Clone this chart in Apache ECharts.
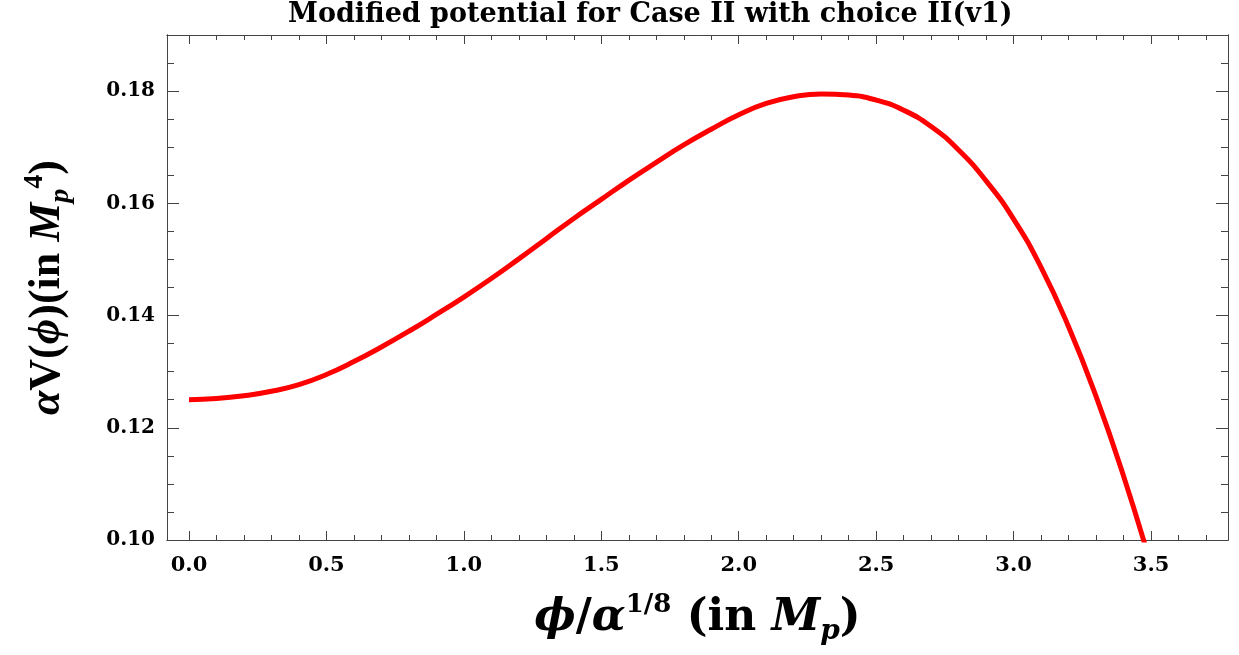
<!DOCTYPE html>
<html>
<head>
<meta charset="utf-8">
<title>Modified potential</title>
<script src="https://cdn.jsdelivr.net/npm/echarts@6/dist/echarts.min.js"></script>
<style>
  html, body { margin: 0; padding: 0; background: #fff; }
  #main { width: 1239px; height: 655px; }
</style>
</head>
<body>
<div id="main"></div>
<script>
// curve, every 0.1
var phiValues = [0.0, 0.1, 0.2, 0.3, 0.4, 0.5, 0.6, 0.7, 0.8, 0.9, 1.0, 1.1, 1.2, 1.3, 1.4, 1.5, 1.6, 1.7, 1.8,
  1.9, 2.0, 2.1, 2.2, 2.3, 2.4, 2.5, 2.6, 2.7, 2.8, 2.9, 3.0, 3.1, 3.2, 3.3, 3.4, 3.5];
var potValues = [0.1250, 0.1252, 0.1257, 0.1265, 0.1277, 0.1295, 0.1318, 0.1344, 0.1372, 0.1402, 0.1433, 0.1466,
  0.1501, 0.1537, 0.1573, 0.1607, 0.1641, 0.1673, 0.1704, 0.1732, 0.1758, 0.1778, 0.1790, 0.1795, 0.1793, 0.1784,
  0.1766, 0.1737, 0.1695, 0.1640, 0.1572, 0.1486, 0.1380, 0.1256, 0.1114, 0.0955];

// ticks
var xMajor = [0, 0.5, 1.0, 1.5, 2.0, 2.5, 3.0, 3.5];
var xMinor = [0.1, 0.2, 0.3, 0.4, 0.6, 0.7, 0.8, 0.9, 1.1, 1.2, 1.3, 1.4, 1.6, 1.7, 1.8, 1.9,
  2.1, 2.2, 2.3, 2.4, 2.6, 2.7, 2.8, 2.9, 3.1, 3.2, 3.3, 3.4, 3.6, 3.7];
var yMajor = [0.10, 0.12, 0.14, 0.16, 0.18];
var yMinor = [0.105, 0.11, 0.115, 0.125, 0.13, 0.135, 0.145, 0.15, 0.155, 0.165, 0.17, 0.175, 0.185];

var xMin = -0.08, xMax = 3.78;
var yMin = 0.10, yMax = 0.19;

var frameColor = '#444';
var serif = 'DejaVu Serif';

var points = phiValues.map(function (x, i) { return [x, potValues[i]]; });

function xAx(pos, ticks, len, labels) {
  return {
    type: 'value', position: pos, min: xMin, max: xMax,
    axisLine: { show: true, onZero: false, lineStyle: { color: frameColor, width: 1 } },
    axisTick: { show: true, inside: true, length: len, customValues: ticks, lineStyle: { color: frameColor } },
    axisLabel: labels ? {
      show: true, customValues: ticks, margin: 15,
      fontFamily: serif, fontWeight: 'bold', fontSize: 21, color: '#000',
      formatter: function (v) { return v.toFixed(1); }
    } : { show: false },
    splitLine: { show: false }
  };
}
function yAx(pos, ticks, len, labels) {
  return {
    type: 'value', position: pos, min: yMin, max: yMax,
    axisLine: { show: true, onZero: false, lineStyle: { color: frameColor, width: 1 } },
    axisTick: { show: true, inside: true, length: len, customValues: ticks, lineStyle: { color: frameColor } },
    axisLabel: labels ? {
      show: true, customValues: ticks, margin: 12,
      fontFamily: serif, fontWeight: 'bold', fontSize: 20, color: '#000',
      formatter: function (v) { return v.toFixed(2); }
    } : { show: false },
    splitLine: { show: false }
  };
}

var xMain = xAx('bottom', xMajor, 9, true);
xMain.name = '{i|ϕ}{n|/}{i|α}{sup|1/8}{n| (in }{i|M}{sub|p}{n|)}';
xMain.nameLocation = 'middle';
xMain.nameGap = 52;
xMain.nameTextStyle = {
  rich: {
    n: { fontFamily: serif, fontWeight: 'bold', fontSize: 44, color: '#000', lineHeight: 54 },
    i: { fontFamily: serif, fontWeight: 'bold', fontStyle: 'italic', fontSize: 44, color: '#000', lineHeight: 54 },
    sup: { fontFamily: serif, fontWeight: 'bold', fontSize: 26, color: '#000', verticalAlign: 'top', lineHeight: 26 },
    sub: { fontFamily: serif, fontWeight: 'bold', fontStyle: 'italic', fontSize: 28, color: '#000', verticalAlign: 'bottom', lineHeight: 28 }
  }
};

var yMain = yAx('left', yMajor, 12, true);
yMain.name = '{i|α}{n|V(}{i|ϕ}{n|)(in }{i|M}{sub|p}{sup|4}{n|)}';
yMain.nameLocation = 'middle';
yMain.nameGap = 92;
yMain.nameTextStyle = {
  rich: {
    n: { fontFamily: 'Liberation Serif', fontWeight: 'bold', fontSize: 44, color: '#000', lineHeight: 54 },
    i: { fontFamily: 'Liberation Serif', fontWeight: 'bold', fontStyle: 'italic', fontSize: 44, color: '#000', lineHeight: 54 },
    sup: { fontFamily: 'Liberation Serif', fontWeight: 'bold', fontSize: 28, color: '#000', verticalAlign: 'top', lineHeight: 28 },
    sub: { fontFamily: 'Liberation Serif', fontWeight: 'bold', fontStyle: 'italic', fontSize: 28, color: '#000', verticalAlign: 'bottom', lineHeight: 28 }
  }
};

var chart = echarts.init(document.getElementById('main'));
chart.setOption({
  backgroundColor: '#fff',
  animation: false,
  title: {
    text: 'Modified potential for Case II with choice II(v1)',
    left: 283, top: -4,
    textStyle: { fontFamily: serif, fontWeight: 'bold', fontSize: 27, color: '#000' }
  },
  grid: { left: 167, right: 11, top: 35, bottom: 115, containLabel: false },
  xAxis: [
    xMain,
    xAx('bottom', xMinor, 5, false),
    xAx('top', xMajor, 9, false),
    xAx('top', xMinor, 5, false)
  ],
  yAxis: [
    yMain,
    yAx('left', yMinor, 7, false),
    yAx('right', yMajor, 12, false),
    yAx('right', yMinor, 7, false)
  ],
  series: [{
    type: 'line',
    xAxisIndex: 0,
    yAxisIndex: 0,
    data: points,
    smooth: true,
    symbol: 'none',
    clip: true,
    lineStyle: { color: '#ff0000', width: 5 }
  }]
});
</script>
</body>
</html>
